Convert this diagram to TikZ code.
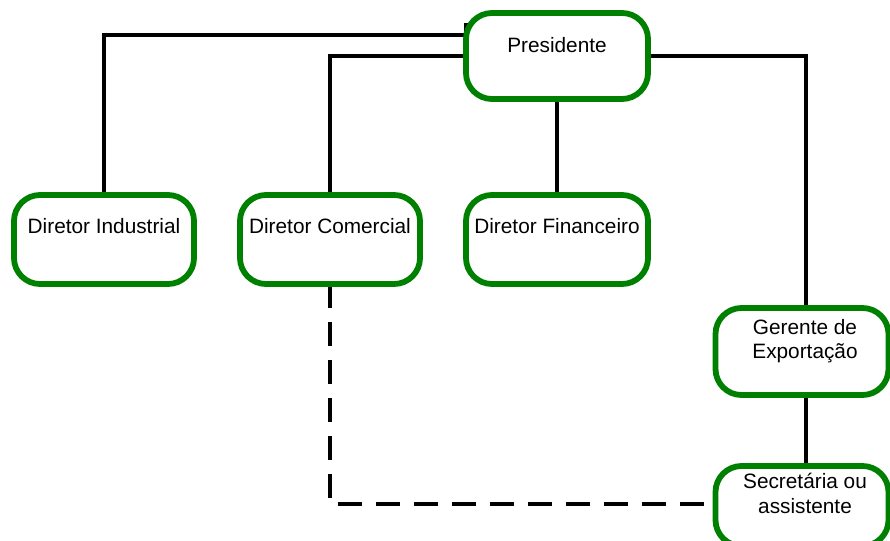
\documentclass[tikz,border=0pt]{standalone}
\usepackage{fontspec}
\setmainfont{Liberation Sans}
\usetikzlibrary{backgrounds}
\definecolor{boxgreen}{RGB}{0,128,0}
\begin{document}
\begin{tikzpicture}[x=1pt,y=-1pt,
  orgbox/.style={draw=boxgreen, line width=5.8pt, rounded corners=26pt,
    fill=white, inner sep=0pt, outer sep=0pt},
  lbl/.style={anchor=north, inner sep=0pt, align=center,
    font=\fontsize{20.8}{24.5}\selectfont},
  conn/.style={draw=black, line width=3.2pt},
  dotted link/.style={conn, dash pattern=on 24pt off 14pt}]
\useasboundingbox (0,0) rectangle (890,540);

% boxes
\node[orgbox, minimum width=182pt, minimum height=86pt] (pres) at (557,56) {};
\node[orgbox, minimum width=180pt, minimum height=89pt] (ind) at (104,239.5) {};
\node[orgbox, minimum width=180pt, minimum height=89pt] (com) at (330,239.5) {};
\node[orgbox, minimum width=182pt, minimum height=89pt] (fin) at (557,239.5) {};
\node[orgbox, minimum width=173pt, minimum height=87pt] (ger) at (802,351.5) {};
\node[orgbox, minimum width=173pt, minimum height=80pt] (sec) at (802,506) {};

% texts
\node[lbl] (presT) at ([yshift=-24pt]pres.north) {Presidente};
\node[lbl] (indT) at ([yshift=-23pt]ind.north) {Diretor Industrial};
\node[lbl] (comT) at ([yshift=-23pt]com.north) {Diretor Comercial};
\node[lbl] (finT) at ([yshift=-23pt]fin.north) {Diretor Financeiro};
\node[lbl] (gerT) at ([xshift=3pt,yshift=-11pt]ger.north) {Gerente de\\Exportação};
\node[lbl] (secT) at ([xshift=3pt,yshift=-7pt]sec.north) {Secretária ou\\assistente};

% connectors
\begin{scope}[on background layer]
\draw[conn] (ind.north) |- ([yshift=21pt]pres.west) -- ([yshift=33pt]pres.west);
\draw[conn] (com.north) |- (pres.west);
\draw[conn] (pres.south) -- (fin.north);
\draw[conn] (pres.east) -| ([xshift=4pt]ger.north);
\draw[conn] ([xshift=4pt]ger.south) -- ([xshift=4pt]sec.north);
\draw[dotted link] (com.south) |- ([yshift=2pt]sec.west);
\end{scope}
\end{tikzpicture}
\end{document}
